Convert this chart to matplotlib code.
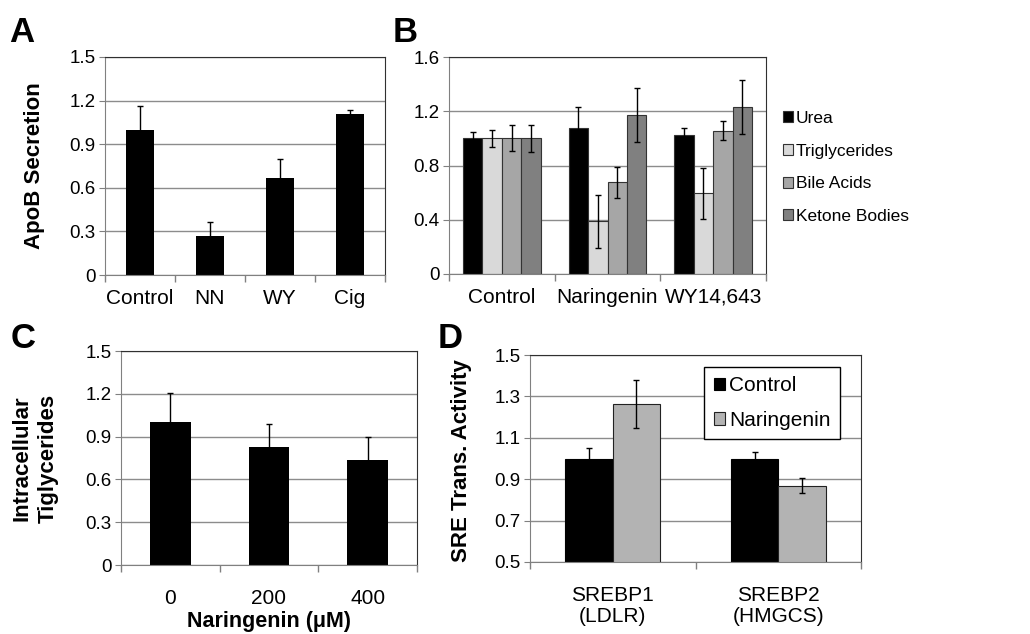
import numpy as np
import matplotlib
matplotlib.use("Agg")
import matplotlib.pyplot as plt

plt.rcParams['font.family'] = ['Liberation Sans', 'DejaVu Sans']

# panel A - ApoB secretion
a_labels = ["Control", "NN", "WY", "Cig"]
a_vals = [1.0, 0.27, 0.67, 1.11]
a_err = [0.165, 0.095, 0.125, 0.025]

# panel B - metabolic outputs
b_groups = ["Control", "Naringenin", "WY14,643"]
b_series = ["Urea", "Triglycerides", "Bile Acids", "Ketone Bodies"]
b_urea = [1.0, 1.08, 1.025]
b_trig = [1.0, 0.39, 0.595]
b_bile = [1.0, 0.675, 1.055]
b_keto = [1.0, 1.17, 1.23]
b_urea_err = [0.045, 0.155, 0.05]
b_trig_err = [0.06, 0.195, 0.19]
b_bile_err = [0.095, 0.115, 0.07]
b_keto_err = [0.10, 0.20, 0.20]

# panel C - intracellular TG
c_labels = ["0", "200", "400"]
c_vals = [1.0, 0.825, 0.735]
c_err = [0.205, 0.165, 0.16]

# panel D - SRE activity
d_labels = ["SREBP1\n(LDLR)", "SREBP2\n(HMGCS)"]
d_series = ["Control", "Naringenin"]
d_ctrl = [1.0, 1.0]
d_nar = [1.263, 0.869]
d_ctrl_err = [0.05, 0.03]
d_nar_err = [0.115, 0.035]

W, H = 1030, 634
fig = plt.figure(figsize=(W / 100, H / 100), dpi=100)


def rect(l, t, r, b):
    return [l / W, 1 - b / H, (r - l) / W, (b - t) / H]


def style(ax, n, ylim, yticks, ytl, pad):
    ax.set_xlim(-0.5, n - 0.5)
    ax.set_ylim(*ylim)
    ax.set_yticks(yticks)
    ax.set_yticklabels(ytl)
    ax.set_xticks(np.arange(n))
    ax.set_xticks(np.arange(n + 1) - 0.5, minor=True)
    ax.tick_params(axis='x', which='major', length=0, pad=pad, labelsize=15)
    ax.tick_params(axis='x', which='minor', length=5, color='#808080', width=1)
    ax.tick_params(axis='y', length=4, color='#808080', labelsize=13.5, pad=3)
    ax.grid(axis='y', color='#8c8c8c', lw=1)
    ax.set_axisbelow(True)
    for s in ['left', 'bottom']:
        ax.spines[s].set_color('#808080')
    for s in ['top', 'right']:
        ax.spines[s].set_color('#303030')


def ylab(text, px, py, ls=1.05):
    fig.text(px / W, 1 - py / H, text, rotation=90, ha='center', va='center',
             fontsize=16, fontweight='bold', linespacing=ls)


ekw = dict(ecolor='black', elinewidth=1, capsize=2.5, capthick=1)

# A
axA = fig.add_axes(rect(105, 57, 385, 275))
x = np.arange(len(a_labels))
axA.bar(x, a_vals, width=0.41, color='black', yerr=a_err, error_kw=ekw)
style(axA, 4, (0, 1.5), [0, 0.3, 0.6, 0.9, 1.2, 1.5], ["0", "0.3", "0.6", "0.9", "1.2", "1.5"], 10)
axA.set_xticklabels(a_labels)
ylab("ApoB Secretion", 35, 166)

# B
axB = fig.add_axes(rect(449, 57, 766, 274))
x = np.arange(len(b_groups))
bw = 0.184
b_cols = ['black', '#d9d9d9', '#a6a6a6', '#808080']
for i, (v, e) in enumerate(zip([b_urea, b_trig, b_bile, b_keto],
                               [b_urea_err, b_trig_err, b_bile_err, b_keto_err])):
    axB.bar(x + (i - 1.5) * bw, v, width=bw, color=b_cols[i], edgecolor='#333333',
            linewidth=0.8, yerr=e, error_kw=ekw, label=b_series[i])
style(axB, 3, (0, 1.6), [0, 0.4, 0.8, 1.2, 1.6], ["0", "0.4", "0.8", "1.2", "1.6"], 10)
axB.set_xticklabels(b_groups)
axB.legend(loc='upper left', bbox_to_anchor=(776 / W, 1 - 104 / H),
           bbox_transform=fig.transFigure, frameon=False, fontsize=12.5,
           handlelength=0.6, handleheight=0.6, handletextpad=0.15,
           labelspacing=1.02, borderaxespad=0)

# C
axC = fig.add_axes(rect(121, 351, 417, 565))
x = np.arange(len(c_labels))
axC.bar(x, c_vals, width=0.41, color='black', yerr=c_err, error_kw=ekw)
style(axC, 3, (0, 1.5), [0, 0.3, 0.6, 0.9, 1.2, 1.5], ["0", "0.3", "0.6", "0.9", "1.2", "1.5"], 17)
axC.set_xticklabels(c_labels)
ylab("Intracellular\nTiglycerides", 35, 458, ls=1.3)
fig.text(269 / W, 1 - 622 / H, "Naringenin (\u03bcM)", fontsize=15.5, fontweight='bold',
         ha='center', va='center')

# D
axD = fig.add_axes(rect(530, 355, 861, 562))
x = np.arange(len(d_labels))
dw = 0.286
axD.bar(x - dw / 2, d_ctrl, width=dw, color='black', edgecolor='black', linewidth=0.8,
        yerr=d_ctrl_err, error_kw=ekw, label=d_series[0])
axD.bar(x + dw / 2, d_nar, width=dw, color='#b3b3b3', edgecolor='#222222', linewidth=0.8,
        yerr=d_nar_err, error_kw=ekw, label=d_series[1])
style(axD, 2, (0.5, 1.5), [0.5, 0.7, 0.9, 1.1, 1.3, 1.5], ["0.5", "0.7", "0.9", "1.1", "1.3", "1.5"], 17)
axD.set_xticklabels(d_labels, linespacing=1.15)
ylab("SRE Trans. Activity", 461, 461)
leg = axD.legend(loc='upper right', bbox_to_anchor=(840 / W, 1 - 367 / H),
                 bbox_transform=fig.transFigure, fontsize=15, fancybox=False,
                 edgecolor='black', framealpha=1, handlelength=0.55, handleheight=0.55,
                 handletextpad=0.2, labelspacing=0.75, borderaxespad=0, borderpad=0.45)
leg.get_frame().set_linewidth(1)

# panel letters
for lbl, px, py in [("A", 22, 33), ("B", 405, 32), ("C", 23, 338), ("D", 450, 338)]:
    fig.text(px / W, 1 - py / H, lbl, fontsize=25, fontweight='bold', ha='center', va='center')

fig.savefig("out.png", dpi=100)
